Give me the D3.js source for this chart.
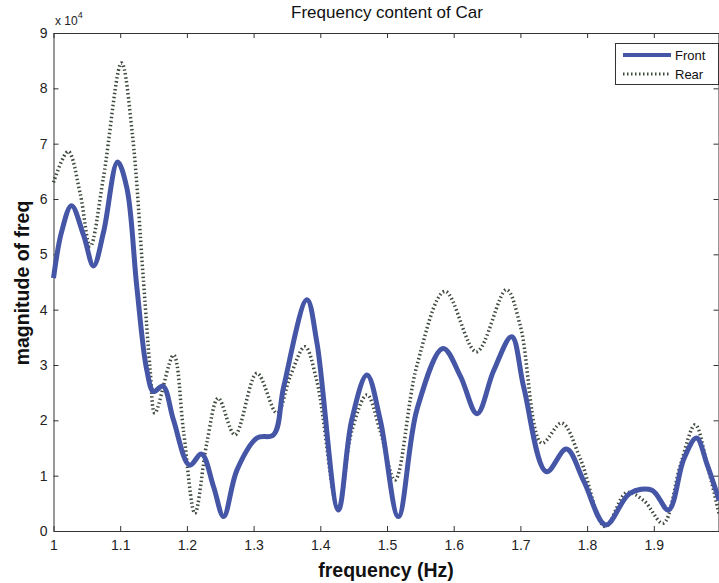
<!DOCTYPE html>
<html><head><meta charset="utf-8">
<script src="https://cdn.jsdelivr.net/npm/d3@7"></script>
<style>body{margin:0;background:#fff}svg{display:block}text{font-family:"Liberation Sans",Arial,sans-serif}</style>
</head><body><svg id="c" width="719" height="583"></svg>
<script>
const xTicks = [1,1.1,1.2,1.3,1.4,1.5,1.6,1.7,1.8,1.9];
const xTickLabels = ["1","1.1","1.2","1.3","1.4","1.5","1.6","1.7","1.8","1.9"];
const yTicks = [0,1,2,3,4,5,6,7,8,9];
const frontFreq = [1.000,1.012,1.027,1.045,1.060,1.075,1.096,1.110,1.125,1.140,1.150,1.164,1.180,1.204,1.222,1.240,1.255,1.275,1.305,1.330,1.345,1.380,1.395,1.427,1.447,1.470,1.490,1.517,1.545,1.584,1.610,1.635,1.660,1.687,1.705,1.739,1.769,1.795,1.828,1.864,1.897,1.922,1.945,1.964,1.980,1.998];
const frontMag = [4.57,5.40,5.88,5.35,4.79,5.40,6.67,6.20,4.40,2.90,2.52,2.62,2.00,1.19,1.39,0.80,0.26,1.10,1.68,1.74,2.60,4.18,3.40,0.38,2.00,2.82,2.00,0.26,2.20,3.30,2.80,2.12,2.90,3.51,2.60,1.07,1.48,0.90,0.11,0.68,0.74,0.38,1.30,1.68,1.20,0.55];
const rearFreq = [1.000,1.022,1.040,1.055,1.075,1.102,1.118,1.135,1.145,1.152,1.180,1.195,1.212,1.230,1.247,1.272,1.305,1.335,1.355,1.377,1.395,1.427,1.447,1.470,1.490,1.512,1.545,1.587,1.634,1.679,1.700,1.732,1.762,1.790,1.827,1.859,1.885,1.914,1.940,1.962,1.980,1.998];
const rearMag = [6.30,6.86,6.10,5.14,6.40,8.46,7.20,4.50,2.90,2.13,3.18,1.80,0.32,1.60,2.40,1.74,2.85,2.13,2.80,3.33,2.70,0.38,1.80,2.46,1.80,0.92,3.00,4.33,3.24,4.36,3.70,1.59,1.95,1.30,0.08,0.69,0.55,0.14,1.20,1.92,1.20,0.30];

const svg = d3.select("#c");
const x = d3.scaleLinear().domain([1,2]).range([53.5,720.5]);
const y = d3.scaleLinear().domain([0,9]).range([531,33]);

const axisColor = "#333";
function styleAxis(g){ g.select(".domain").attr("stroke",axisColor); g.selectAll(".tick line").attr("stroke",axisColor);
  g.selectAll("text").attr("fill","#222").style("font-size","14px").style("font-family",'"Liberation Sans",Arial,sans-serif'); }

svg.append("g").attr("transform","translate(0,531)")
  .call(d3.axisBottom(x).tickValues(xTicks).tickFormat((d,i)=>xTickLabels[i]).tickSizeInner(-5).tickSizeOuter(0).tickPadding(9))
  .call(styleAxis);
svg.append("g").attr("transform","translate(0,33)")
  .call(d3.axisTop(x).tickValues(xTicks).tickFormat("").tickSizeInner(-5).tickSizeOuter(0))
  .call(styleAxis);
svg.append("g").attr("transform","translate(53.5,0)")
  .call(d3.axisLeft(y).tickValues(yTicks).tickSizeInner(-5).tickSizeOuter(0).tickPadding(6))
  .call(styleAxis);
svg.append("g").attr("transform","translate(718.5,0)")
  .call(d3.axisRight(y).tickValues(yTicks).tickFormat("").tickSizeInner(-5).tickSizeOuter(0))
  .call(styleAxis);

const line = d3.line().x(d=>x(d[0])).y(d=>y(d[1])).curve(d3.curveCatmullRom.alpha(0.5));
const front = frontFreq.map((f,i)=>[f,frontMag[i]]);
const rear = rearFreq.map((f,i)=>[f,rearMag[i]]);

svg.append("path").datum(rear).attr("d",line).attr("fill","none")
  .attr("stroke","#3f4a3f").attr("stroke-width",3.5).attr("stroke-dasharray","1.5,2.5");
svg.append("path").datum(front).attr("d",line).attr("fill","none")
  .attr("stroke","#4656a6").attr("stroke-width",5).attr("stroke-linejoin","round");

// title and labels
svg.append("text").attr("x",387).attr("y",18).attr("text-anchor","middle")
  .style("font-size","17px").attr("fill","#111").text("Frequency content of Car");
svg.append("text").attr("x",386).attr("y",577).attr("text-anchor","middle")
  .style("font-size","19.5px").style("font-weight","bold").attr("fill","#111").text("frequency (Hz)");
svg.append("text").attr("transform","translate(29,283) rotate(-90)").attr("text-anchor","middle")
  .style("font-size","19.5px").style("font-weight","bold").attr("fill","#111").text("magnitude of freq");
const ex = svg.append("text").attr("x",55).attr("y",25).style("font-size","12px").attr("fill","#222");
ex.append("tspan").text("x 10");
ex.append("tspan").attr("dy",-7).style("font-size","9px").text("4");

// legend
const lg = svg.append("g");
lg.append("rect").attr("x",615.5).attr("y",43.5).attr("width",103).attr("height",41)
  .attr("fill","#fff").attr("stroke","#333");
lg.append("line").attr("x1",623).attr("x2",671).attr("y1",55).attr("y2",55)
  .attr("stroke","#4656a6").attr("stroke-width",4);
lg.append("line").attr("x1",623).attr("x2",671).attr("y1",74).attr("y2",74)
  .attr("stroke","#3f4a3f").attr("stroke-width",3).attr("stroke-dasharray","1.5,2.5");
lg.append("text").attr("x",675).attr("y",60).style("font-size","13px").attr("fill","#111").text("Front");
lg.append("text").attr("x",675).attr("y",79).style("font-size","13px").attr("fill","#111").text("Rear");
</script></body></html>
